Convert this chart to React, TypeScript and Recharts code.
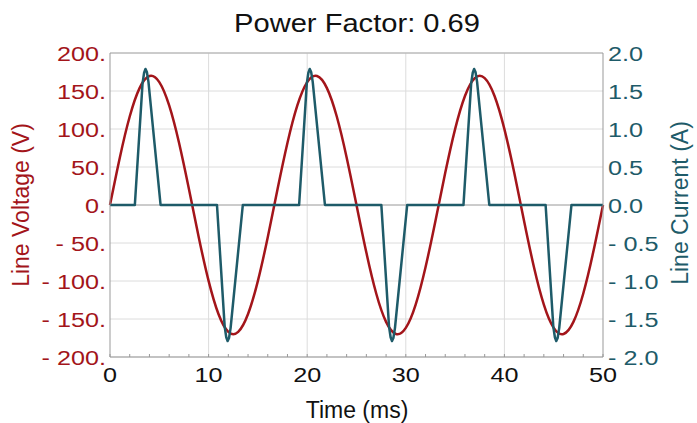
import { LineChart, Line, XAxis, YAxis, CartesianGrid, ReferenceLine } from 'recharts';

const RED = '#A3151A';
const TEAL = '#1E5B69';
const FONT = '"Liberation Sans", Arial, sans-serif';

// voltage samples, 1 ms apart
const T_VOLT = [
  0, 1, 2, 3, 4, 5, 6, 7, 8, 9, 10, 11, 12, 13, 14, 15, 16, 17, 18, 19, 20, 21, 22, 23, 24, 25,
  26, 27, 28, 29, 30, 31, 32, 33, 34, 35, 36, 37, 38, 39, 40, 41, 42, 43, 44, 45, 46, 47, 48, 49, 50,
];
const VOLTS = [
  0, 62.6, 116.4, 153.8, 169.7, 161.7, 131.0, 81.9, 21.3, -42.3, -99.9, -143.5, -167.0, -167.0,
  -143.5, -99.9, -42.3, 21.3, 81.9, 131.0, 161.7, 169.7, 153.8, 116.4, 62.6, 0, -62.6, -116.4,
  -153.8, -169.7, -161.7, -131.0, -81.9, -21.3, 42.3, 99.9, 143.5, 167.0, 167.0, 143.5, 99.9,
  42.3, -21.3, -81.9, -131.0, -161.7, -169.7, -153.8, -116.4, -62.6, 0,
];

// current pulses (start, rounded top, end)
const T_CURR = [
  0,
  2.52, 3.3, 3.46, 3.6, 3.74, 3.9, 5.13,
  10.85, 11.63, 11.79, 11.93, 12.07, 12.23, 13.47,
  19.18, 19.96, 20.12, 20.26, 20.4, 20.56, 21.8,
  27.52, 28.3, 28.46, 28.6, 28.74, 28.9, 30.14,
  35.85, 36.63, 36.79, 36.93, 37.07, 37.23, 38.47,
  44.18, 44.96, 45.12, 45.26, 45.4, 45.56, 46.8,
  50,
];
const AMPS = [
  0,
  0, 1.6, 1.74, 1.79, 1.75, 1.62, 0,
  0, -1.6, -1.74, -1.79, -1.75, -1.62, 0,
  0, 1.6, 1.74, 1.79, 1.75, 1.62, 0,
  0, -1.6, -1.74, -1.79, -1.75, -1.62, 0,
  0, 1.6, 1.74, 1.79, 1.75, 1.62, 0,
  0, -1.6, -1.74, -1.79, -1.75, -1.62, 0,
  0,
];

const X_TICKS = [0, 2, 4, 6, 8, 10, 12, 14, 16, 18, 20, 22, 24, 26, 28, 30, 32, 34, 36, 38, 40, 42, 44, 46, 48, 50];
const X_GRID = [10, 20, 30, 40];
const V_TICKS = [-200, -150, -100, -50, 0, 50, 100, 150, 200];
const I_TICKS = [-2, -1.5, -1, -0.5, 0, 0.5, 1, 1.5, 2];

const voltData = T_VOLT.map((t, k) => ({ t, v: VOLTS[k] }));
const currData = T_CURR.map((t, k) => ({ t, i: AMPS[k] }));

const fmtV = (v: number) => (v < 0 ? `- ${-v}.` : `${v}.`);
const fmtI = (v: number) => (v < 0 ? `- ${(-v).toFixed(1)}` : v.toFixed(1));

function LeftTick({ x, y, payload }: any) {
  return (
    <text
      transform={`translate(${x},${y}) scale(1.2,1)`}
      textAnchor="end"
      dy="0.36em"
      fill={RED}
      fontSize={21}
      fontFamily={FONT}
    >
      {fmtV(payload.value)}
    </text>
  );
}

function RightTick({ x, y, payload }: any) {
  return (
    <text
      transform={`translate(${x},${y}) scale(1.2,1)`}
      textAnchor="start"
      dy="0.36em"
      fill={TEAL}
      fontSize={21}
      fontFamily={FONT}
    >
      {fmtI(payload.value)}
    </text>
  );
}

function BottomTick({ x, y, payload }: any) {
  const major = payload.value % 10 === 0;
  return (
    <g>
      <line x1={x} x2={x} y1={y} y2={y - 3} stroke="#999" />
      {major && (
        <text
          transform={`translate(${x},${y + 25}) scale(1.2,1)`}
          textAnchor="middle"
          fill="#111"
          fontSize={21}
          fontFamily={FONT}
        >
          {payload.value}
        </text>
      )}
    </g>
  );
}

export default function App() {
  return (
    <div style={{ position: 'absolute', left: 0, top: 0, width: 697, height: 423, background: '#fff' }}>
      <LineChart width={697} height={423} margin={{ top: 53, right: 0, bottom: 0, left: 0 }}>
        <CartesianGrid yAxisId="v" vertical={false} stroke="#dcdcdc" />
        <XAxis
          dataKey="t"
          type="number"
          domain={[0, 50]}
          ticks={X_TICKS}
          interval={0}
          height={66}
          tickSize={0}
          tickMargin={0}
          tickLine={false}
          tick={<BottomTick />}
          axisLine={{ stroke: '#999' }}
        />
        <YAxis
          yAxisId="v"
          domain={[-200, 200]}
          ticks={V_TICKS}
          interval={0}
          width={110}
          tickSize={0}
          tickMargin={4}
          tickLine={false}
          tick={<LeftTick />}
          axisLine={{ stroke: '#999' }}
        />
        <YAxis
          yAxisId="i"
          orientation="right"
          domain={[-2, 2]}
          ticks={I_TICKS}
          interval={0}
          width={94}
          tickSize={0}
          tickMargin={5}
          tickLine={false}
          tick={<RightTick />}
          axisLine={{ stroke: '#999' }}
        />
        {X_GRID.map((g) => (
          <ReferenceLine key={g} yAxisId="v" x={g} stroke="#dcdcdc" />
        ))}
        <ReferenceLine yAxisId="v" y={0} stroke="#aaa" />
        <ReferenceLine yAxisId="v" y={200} stroke="#aaa" />
        <Line
          yAxisId="v"
          data={voltData}
          dataKey="v"
          type="natural"
          stroke={RED}
          strokeWidth={2.5}
          dot={false}
          isAnimationActive={false}
        />
        <Line
          yAxisId="i"
          data={currData}
          dataKey="i"
          type="linear"
          stroke={TEAL}
          strokeWidth={2.5}
          strokeLinejoin="round"
          dot={false}
          isAnimationActive={false}
        />
      </LineChart>
      <svg
        width={697}
        height={423}
        style={{ position: 'absolute', left: 0, top: 0, pointerEvents: 'none' }}
        fontFamily={FONT}
      >
        <text transform="translate(357,32) scale(1.12,1)" textAnchor="middle" fontSize={26} fill="#111">
          Power Factor: 0.69
        </text>
        <text x={357} y={418} textAnchor="middle" fontSize={23} fill="#111">
          Time (ms)
        </text>
        <text transform="translate(29,205) rotate(-90)" textAnchor="middle" fontSize={23} fill={RED}>
          Line Voltage (V)
        </text>
        <text transform="translate(688,203) rotate(-90)" textAnchor="middle" fontSize={23} fill={TEAL}>
          Line Current (A)
        </text>
      </svg>
    </div>
  );
}
